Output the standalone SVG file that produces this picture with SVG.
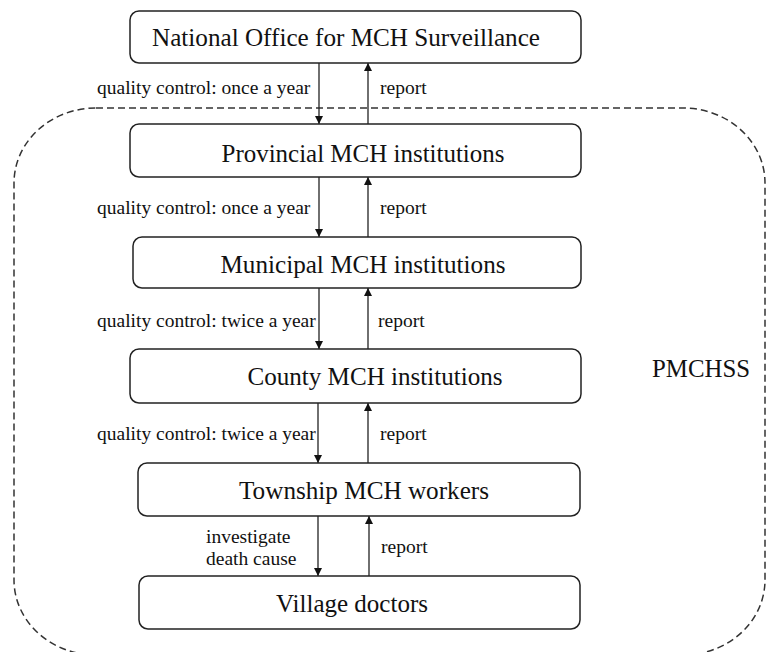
<svg xmlns="http://www.w3.org/2000/svg" width="766" height="652" viewBox="0 0 766 652">
<style>
.box{fill:#fff;stroke:#222;stroke-width:1.5}
.bt{font-family:"Liberation Serif","Times New Roman",serif;font-size:26px;fill:#111;text-anchor:middle}
.lb{font-family:"Liberation Serif","Times New Roman",serif;font-size:19.5px;fill:#111}
.ln{stroke:#222;stroke-width:1.3;fill:none}
.dash{fill:none;stroke:#333;stroke-width:1.5;stroke-dasharray:7 4}
</style>
<defs>
<marker id="ah" viewBox="0 0 10 10" refX="10" refY="5" markerWidth="8" markerHeight="9" markerUnits="userSpaceOnUse" orient="auto">
<path d="M0,0 L10,5 L0,10 z" fill="#111"/>
</marker>
</defs>
<rect class="dash" x="14" y="108" width="751" height="547" rx="82" ry="75"/>
<text class="bt" x="701" y="377" textLength="98" lengthAdjust="spacingAndGlyphs">PMCHSS</text>
<g id="connectors">
<line class="ln" x1="319" y1="63" x2="319" y2="124" marker-end="url(#ah)"/>
<line class="ln" x1="368" y1="124" x2="368" y2="63" marker-end="url(#ah)"/>
<line class="ln" x1="319" y1="177" x2="319" y2="237" marker-end="url(#ah)"/>
<line class="ln" x1="368" y1="237" x2="368" y2="177" marker-end="url(#ah)"/>
<line class="ln" x1="319" y1="288" x2="319" y2="349" marker-end="url(#ah)"/>
<line class="ln" x1="368" y1="349" x2="368" y2="288" marker-end="url(#ah)"/>
<line class="ln" x1="318" y1="403" x2="318" y2="463" marker-end="url(#ah)"/>
<line class="ln" x1="368" y1="463" x2="368" y2="403" marker-end="url(#ah)"/>
<line class="ln" x1="318" y1="516" x2="318" y2="576" marker-end="url(#ah)"/>
<line class="ln" x1="369" y1="576" x2="369" y2="516" marker-end="url(#ah)"/>
<text class="lb" x="97" y="94">quality control: once a year</text>
<text class="lb" x="380" y="94">report</text>
<text class="lb" x="97" y="214">quality control: once a year</text>
<text class="lb" x="380" y="214">report</text>
<text class="lb" x="97" y="327">quality control: twice a year</text>
<text class="lb" x="378" y="327">report</text>
<text class="lb" x="97" y="440">quality control: twice a year</text>
<text class="lb" x="380" y="440">report</text>
<text class="lb" x="206" y="543">investigate</text>
<text class="lb" x="206" y="565">death cause</text>
<text class="lb" x="381" y="553">report</text>
</g>
<g id="national">
<rect class="box" x="130" y="11" width="451" height="52" rx="9"/>
<text class="bt" x="346" y="46" textLength="388" lengthAdjust="spacingAndGlyphs">National Office for MCH Surveillance</text>
</g>
<g id="provincial">
<rect class="box" x="130" y="124" width="451" height="53" rx="9"/>
<text class="bt" x="363" y="162" textLength="283" lengthAdjust="spacingAndGlyphs">Provincial MCH institutions</text>
</g>
<g id="municipal">
<rect class="box" x="133" y="237" width="448" height="51" rx="9"/>
<text class="bt" x="363" y="273" textLength="285" lengthAdjust="spacingAndGlyphs">Municipal MCH institutions</text>
</g>
<g id="county">
<rect class="box" x="130" y="349" width="451" height="54" rx="9"/>
<text class="bt" x="375" y="385" textLength="255" lengthAdjust="spacingAndGlyphs">County MCH institutions</text>
</g>
<g id="township">
<rect class="box" x="138" y="463" width="442" height="53" rx="9"/>
<text class="bt" x="364" y="499" textLength="250" lengthAdjust="spacingAndGlyphs">Township MCH workers</text>
</g>
<g id="village">
<rect class="box" x="139" y="576" width="441" height="53" rx="9"/>
<text class="bt" x="352" y="612" textLength="152" lengthAdjust="spacingAndGlyphs">Village doctors</text>
</g>
</svg>
